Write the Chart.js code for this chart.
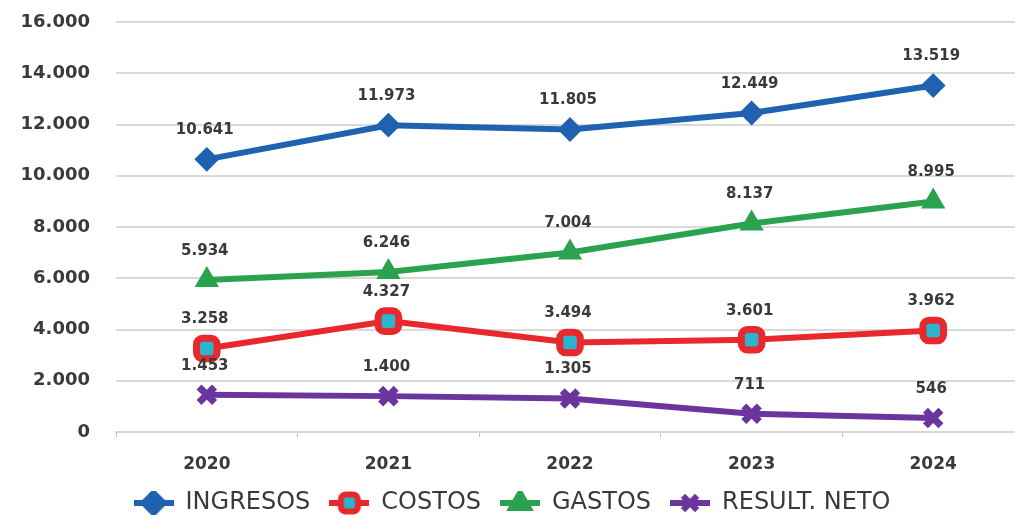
<!DOCTYPE html>
<html>
<head>
<meta charset="utf-8">
<script src="https://cdn.jsdelivr.net/npm/chart.js@4.4.1/dist/chart.umd.min.js"></script>
<style>
  html, body { margin: 0; padding: 0; background: #fff; overflow: hidden; }
  #chart { display: block; }
</style>
</head>
<body>
<canvas id="chart" width="1024" height="523"></canvas>
<script>
const years = ['2020', '2021', '2022', '2023', '2024'];
const ingresos = [10641, 11973, 11805, 12449, 13519];
const costos = [3258, 4327, 3494, 3601, 3962];
const gastos = [5934, 6246, 7004, 8137, 8995];
const resultNeto = [1453, 1400, 1305, 711, 546];
const yTicks = [0, 2000, 4000, 6000, 8000, 10000, 12000, 14000, 16000];

const fmt = (v) => String(v).replace(/\B(?=(\d{3})+(?!\d))/g, '.');

const textColor = '#3a3a3a';
const gridColor = '#d9d9d9';

// legend swatch: short line with the marker on top, like the spreadsheet legend
function markerCanvas(color, style, fill, bw) {
    const c = document.createElement('canvas');
    c.width = 40;
    c.height = 24;
    const ctx = c.getContext('2d');
    ctx.strokeStyle = color;
    ctx.lineWidth = 6;
    ctx.beginPath();
    ctx.moveTo(0, 12);
    ctx.lineTo(40, 12);
    ctx.stroke();
    ctx.fillStyle = fill;
    ctx.strokeStyle = color;
    Chart.helpers.drawPoint(ctx, { pointStyle: style, radius: 10, borderWidth: bw }, 20, 12);
    return c;
}

const valueLabels = {
    id: 'valueLabels',
    afterDatasetsDraw(chart) {
        const ctx = chart.ctx;
        ctx.save();
        ctx.font = 'bold 15px "DejaVu Sans"';
        ctx.fillStyle = textColor;
        ctx.textAlign = 'center';
        ctx.textBaseline = 'middle';
        chart.data.datasets.forEach((ds, i) => {
            const meta = chart.getDatasetMeta(i);
            meta.data.forEach((pt, j) => {
                ctx.fillText(fmt(ds.data[j]), pt.x - 2, pt.y - 29);
            });
        });
        ctx.restore();
    }
};

const series = [
    { label: 'INGRESOS', data: ingresos, color: '#1f62b0', style: 'rectRot', fill: '#1f62b0', radius: 11, bw: 2 },
    { label: 'COSTOS', data: costos, color: '#e8282c', style: 'rectRounded', fill: '#2bb4cc', radius: 12, bw: 7 },
    { label: 'GASTOS', data: gastos, color: '#2aa24e', style: 'triangle', fill: '#2aa24e', radius: 12, bw: 2 },
    { label: 'RESULT. NETO', data: resultNeto, color: '#6a359c', style: 'crossRot', fill: '#6a359c', radius: 11, bw: 7 }
];

new Chart(document.getElementById('chart'), {
    type: 'line',
    data: {
        labels: years,
        datasets: series.map(s => ({
            label: s.label,
            data: s.data,
            borderColor: s.color,
            backgroundColor: s.fill,
            borderWidth: 6,
            tension: 0,
            pointStyle: s.style,
            pointRadius: s.radius,
            pointBorderColor: s.color,
            pointBackgroundColor: s.fill,
            pointBorderWidth: s.bw
        }))
    },
    options: {
        responsive: false,
        animation: false,
        layout: { autoPadding: false, padding: { top: 22, left: 0, right: 0, bottom: -2 } },
        scales: {
            x: {
                offset: true,
                grid: { drawOnChartArea: false, drawTicks: true, tickLength: 5, offset: true, color: '#bfbfbf' },
                border: { display: true, color: gridColor, width: 2 },
                ticks: { color: textColor, padding: 17, font: { family: 'DejaVu Sans', size: 17, weight: 'bold' } },
                afterFit: (scale) => { scale.height = 40; }
            },
            y: {
                min: 0,
                max: 16000,
                afterBuildTicks: (scale) => { scale.ticks = yTicks.map(v => ({ value: v })); },
                grid: { color: gridColor, lineWidth: 2, drawTicks: false },
                border: { display: false },
                ticks: {
                    color: textColor,
                    padding: 26,
                    font: { family: 'DejaVu Sans', size: 18, weight: 'bold' },
                    callback: (v) => fmt(v)
                },
                afterFit: (scale) => {
                    scale.width = 116;
                    scale.paddingTop = 0;
                    scale.paddingBottom = 0;
                }
            }
        },
        plugins: {
            tooltip: { enabled: false },
            legend: {
                position: 'bottom',
                labels: {
                    color: textColor,
                    usePointStyle: true,
                    pointStyleWidth: 40,
                    boxHeight: 22,
                    padding: 19,
                    font: { family: 'DejaVu Sans', size: 24 },
                    generateLabels: (chart) => series.map((s, i) => ({
                        text: s.label,
                        datasetIndex: i,
                        fontColor: textColor,
                        pointStyle: markerCanvas(s.color, s.style, s.fill, s.style === 'crossRot' ? 6 : (s.style === 'rectRounded' ? 5 : 2)),
                        lineWidth: 0,
                        strokeStyle: 'transparent',
                        fillStyle: 'transparent'
                    }))
                }
            }
        }
    },
    plugins: [valueLabels]
});
</script>
</body>
</html>
